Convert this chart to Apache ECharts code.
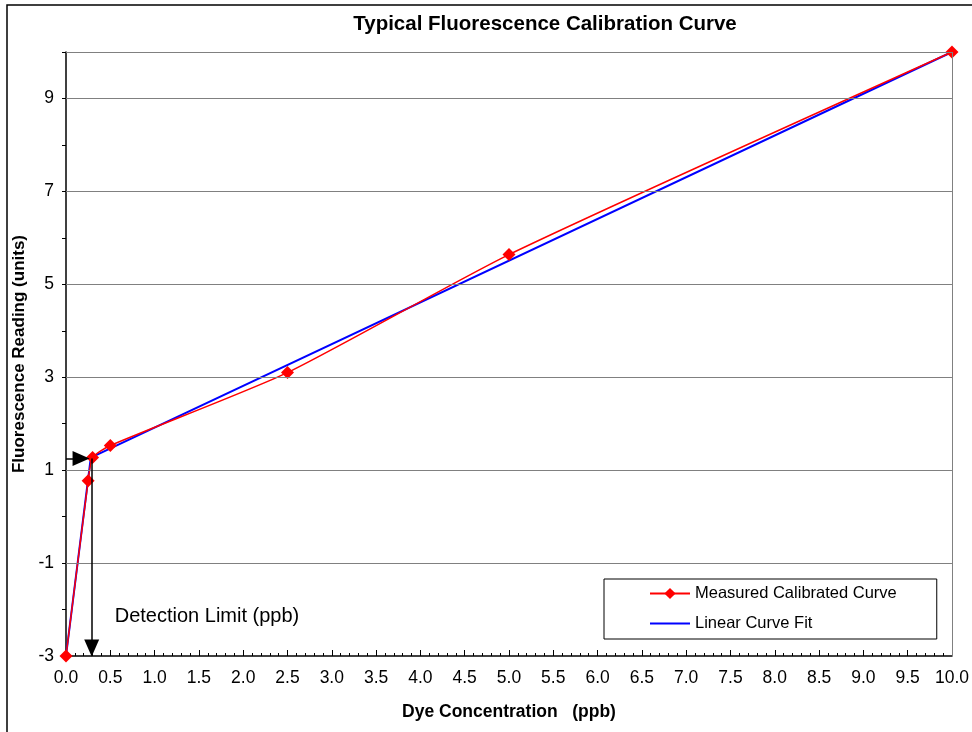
<!DOCTYPE html>
<html>
<head>
<meta charset="utf-8">
<script src="https://cdn.jsdelivr.net/npm/echarts@6/dist/echarts.min.js"></script>
<style>
html,body{margin:0;padding:0;background:#fff;}
#chart{width:972px;height:732px;}
</style>
</head>
<body>
<div id="chart"></div>
<script>
// ---- data ----
var titleText = 'Typical Fluorescence Calibration Curve';
var xAxisName = 'Dye Concentration   (ppb)';
var yAxisName = 'Fluorescence Reading (units)';
var measuredName = 'Measured Calibrated Curve';
var fitName = 'Linear Curve Fit';
var measuredX = [0, 0.25, 0.3, 0.5, 2.5, 5, 10];
var measuredY = [-3, 0.77, 1.27, 1.53, 3.1, 5.64, 10];
var fitX = [0, 0.28, 10];
var fitY = [-3, 1.27, 10];
var yGridValues = [-1, 1, 3, 5, 7, 9, 10];
var detectionLimit = 0.29;
var detectionReading = 1.25;
var detectionLabel = 'Detection Limit (ppb)';
var detectionLabelPos = [0.55, -2.15];

function pairs(xs, ys) { return xs.map(function (x, i) { return [x, ys[i]]; }); }

var chart = echarts.init(document.getElementById('chart'), null, { renderer: 'canvas' });
var FONT = 'Liberation Sans, Arial, sans-serif';

var option = {
  backgroundColor: '#ffffff',
  animation: false,
  title: {
    text: titleText,
    left: 540, top: 9, textAlign: 'center',
    textStyle: { fontFamily: FONT, fontWeight: 'bold', fontSize: 20.5, color: '#000' }
  },
  graphic: [{
    type: 'rect', shape: { x: 7, y: 5, width: 990, height: 760 },
    style: { fill: 'none', stroke: '#000', lineWidth: 1.5 }, silent: true, z: -10
  }],
  legend: {
    data: [
      { name: measuredName },
      { name: fitName, icon: 'path://M0,0L40,0L40,2L0,2Z' }
    ],
    orient: 'vertical', left: 604, top: 579,
    backgroundColor: '#fff', borderColor: '#000', borderWidth: 1,
    padding: [6, 40, 7, 45], itemGap: 13, itemWidth: 40, itemHeight: 14,
    textStyle: { fontFamily: FONT, fontSize: 16.5, color: '#000' }
  },
  grid: { left: 66, right: 18, top: 52, bottom: 76, containLabel: false },
  xAxis: {
    type: 'value', min: 0, max: 10, interval: 0.5,
    name: xAxisName, nameLocation: 'middle', nameGap: 47,
    nameTextStyle: { fontFamily: FONT, fontWeight: 'bold', fontSize: 17.5, color: '#000' },
    axisLine: { show: true, onZero: false, lineStyle: { color: '#000', width: 1.5 } },
    axisTick: { show: true, inside: true, length: 6, lineStyle: { color: '#000' } },
    minorTick: { show: true, splitNumber: 5, length: 3, lineStyle: { color: '#000' } },
    axisLabel: { margin: 13, fontFamily: FONT, fontSize: 17.5, color: '#000',
      formatter: function (v) { return v.toFixed(1); } },
    splitLine: { show: false }
  },
  yAxis: {
    type: 'value', min: -3, max: 10, interval: 1,
    name: yAxisName, nameLocation: 'middle', nameGap: 38,
    nameTextStyle: { fontFamily: FONT, fontWeight: 'bold', fontSize: 17, color: '#000' },
    axisLine: { show: true, onZero: false, lineStyle: { color: '#000', width: 1.5 } },
    axisTick: { show: true, inside: false, length: 4, lineStyle: { color: '#000' } },
    axisLabel: { margin: 12, fontFamily: FONT, fontSize: 17.5, color: '#000',
      formatter: function (v) { return (Math.abs(v % 2) === 1 && v < 10) ? String(v) : ''; } },
    splitLine: { show: false }
  },
  series: [
    {
      name: fitName, type: 'line', data: pairs(fitX, fitY),
      symbol: 'none', z: 3,
      lineStyle: { color: '#0000ff', width: 2 }, itemStyle: { color: '#0000ff' },
      markLine: {
        silent: true, symbol: 'none', label: { show: false },
        lineStyle: { color: '#808080', width: 1, type: 'solid' },
        data: yGridValues.map(function (v) { return { yAxis: v }; }).concat([{ xAxis: 10 }])
      }
    },
    {
      name: measuredName, type: 'line', data: pairs(measuredX, measuredY),
      smooth: 0.2,
      symbol: 'diamond', symbolSize: 13, z: 4,
      lineStyle: { color: '#ff0000', width: 1.5 }, itemStyle: { color: '#ff0000' },
      markLine: {
        silent: true, label: { show: false },
        lineStyle: { color: '#000', width: 1.5, type: 'solid' },
        symbol: ['none', 'triangle'], symbolSize: [16, 16], symbolOffset: 0,
        data: [
          [{ coord: [0, detectionReading], symbol: 'none' }, { coord: [0.17, detectionReading], symbol: 'triangle', symbolSize: [15, 17] }],
          [{ coord: [detectionLimit, detectionReading], symbol: 'none' }, { coord: [detectionLimit, -2.83], symbol: 'triangle', symbolSize: [15, 17] }]
        ]
      },
      markPoint: {
        silent: true, symbol: 'circle', symbolSize: 0,
        label: { show: true, position: 'right', distance: 0, formatter: detectionLabel,
          fontFamily: FONT, fontSize: 20, color: '#000' },
        data: [{ coord: detectionLabelPos }]
      }
    }
  ]
};
chart.setOption(option);
</script>
</body>
</html>
